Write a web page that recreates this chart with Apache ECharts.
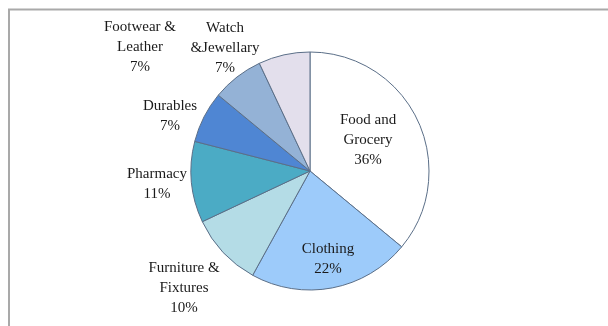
<!DOCTYPE html>
<html>
<head>
<meta charset="utf-8">
<script src="https://cdn.jsdelivr.net/npm/echarts@6/dist/echarts.min.js"></script>
<style>
html,body{margin:0;padding:0;background:#fff;}
#chart{width:608px;height:326px;}
</style>
</head>
<body>
<div id="chart"></div>
<script>
const categories = ['Food and\nGrocery', 'Clothing', 'Furniture &\nFixtures', 'Pharmacy', 'Durables', 'Footwear &\nLeather', 'Watch\n&Jewellary'];
const values = [36, 22, 10, 11, 7, 7, 7];
const colors = ['#ffffff', '#9dcbfa', '#b4dce6', '#4babc5', '#4f86d3', '#94b2d6', '#e3dfec'];
// label anchor points (label centres, in px)
const labelPos = [[368, 140], [328, 259], [184, 288], [157, 184], [170, 116], [140, 47], [225, 48]];

const chart = echarts.init(document.getElementById('chart'), null, {renderer: 'canvas'});
chart.setOption({
  backgroundColor: '#ffffff',
  animation: false,
  graphic: [{
    type: 'polyline',
    shape: {points: [[9, 326], [9, 9.5], [608, 9.5]]},
    style: {stroke: '#a9a9a9', lineWidth: 2, fill: null}
  }],
  series: [{
    type: 'pie',
    center: [310, 171],
    radius: 119,
    startAngle: 90,
    clockwise: true,
    silent: true,
    itemStyle: {borderColor: '#5b6f88', borderWidth: 1},
    label: {
      show: true,
      position: 'outside',
      formatter: p => p.name + '\n' + p.value + '%',
      fontFamily: 'Liberation Serif',
      fontSize: 15,
      lineHeight: 20,
      color: '#1a1a1a',
      align: 'center'
    },
    labelLine: {show: false},
    labelLayout: function (params) {
      const p = labelPos[params.dataIndex];
      return {x: p[0], y: p[1], align: 'center', verticalAlign: 'middle'};
    },
    data: categories.map((c, i) => ({
      name: c,
      value: values[i],
      itemStyle: {color: colors[i]}
    }))
  }]
});
</script>
</body>
</html>
